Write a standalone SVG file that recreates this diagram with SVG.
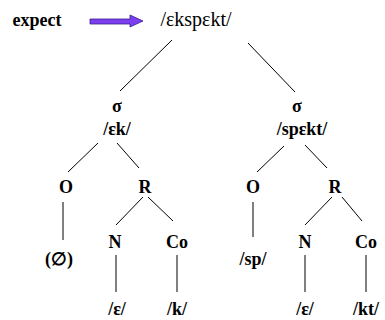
<svg xmlns="http://www.w3.org/2000/svg" width="385" height="320" viewBox="0 0 385 320">
<style>
text{font-family:"Liberation Serif","Times New Roman","DejaVu Serif",serif;font-size:18px;font-weight:bold;text-anchor:middle;fill:#000}
.reg{font-weight:normal;font-size:20px}
line{stroke:#000;stroke-width:1}
</style>
<rect width="385" height="320" fill="#fff"/>
<g id="expect"><text x="37" y="26">expect</text></g>
<g id="arrow"><path d="M90,19 L130,19 L130,15 L143,21 L130,27 L130,24 L90,24 Z" fill="#7b3ff0" stroke="#3b1d8f" stroke-width="0.8"/></g>
<g id="word"><text class="reg" x="196" y="26">/ɛkspɛkt/</text></g>
<g id="syl1"><text x="117" y="112">σ</text><text x="117" y="135">/ɛk/</text></g>
<g id="syl2"><text x="297" y="112">σ</text><text x="302" y="135">/spɛkt/</text></g>
<g id="O1"><text x="66" y="193">O</text></g>
<g id="R1"><text x="145" y="193">R</text></g>
<g id="O2"><text x="253" y="193">O</text></g>
<g id="R2"><text x="335" y="193">R</text></g>
<g id="null"><text x="59" y="265">(∅)</text></g>
<g id="sp"><text x="253" y="265">/sp/</text></g>
<g id="N1"><text x="115" y="248">N</text></g>
<g id="Co1"><text x="177" y="248">Co</text></g>
<g id="N2"><text x="305" y="248">N</text></g>
<g id="Co2"><text x="366" y="248">Co</text></g>
<g id="e1"><text x="117" y="315">/ɛ/</text></g>
<g id="k1"><text x="177" y="315">/k/</text></g>
<g id="e2"><text x="305" y="315">/ɛ/</text></g>
<g id="kt"><text x="366" y="315">/kt/</text></g>
<g id="connectors">
<line x1="172" y1="40" x2="120" y2="91"/>
<line x1="248" y1="43" x2="295" y2="92"/>
<line x1="98" y1="143" x2="68" y2="172"/>
<line x1="117" y1="143" x2="139" y2="168"/>
<line x1="284" y1="146" x2="257" y2="172"/>
<line x1="305" y1="145" x2="327" y2="168"/>
<line x1="63" y1="202" x2="63" y2="240"/>
<line x1="253" y1="202" x2="253" y2="237"/>
<line x1="143" y1="197" x2="116" y2="225"/>
<line x1="148" y1="197" x2="173" y2="221"/>
<line x1="332" y1="197" x2="305" y2="225"/>
<line x1="342" y1="197" x2="362" y2="221"/>
<line x1="116" y1="255" x2="116" y2="292"/>
<line x1="177" y1="255" x2="177" y2="292"/>
<line x1="305" y1="255" x2="305" y2="292"/>
<line x1="366" y1="255" x2="366" y2="292"/>
</g>
</svg>
